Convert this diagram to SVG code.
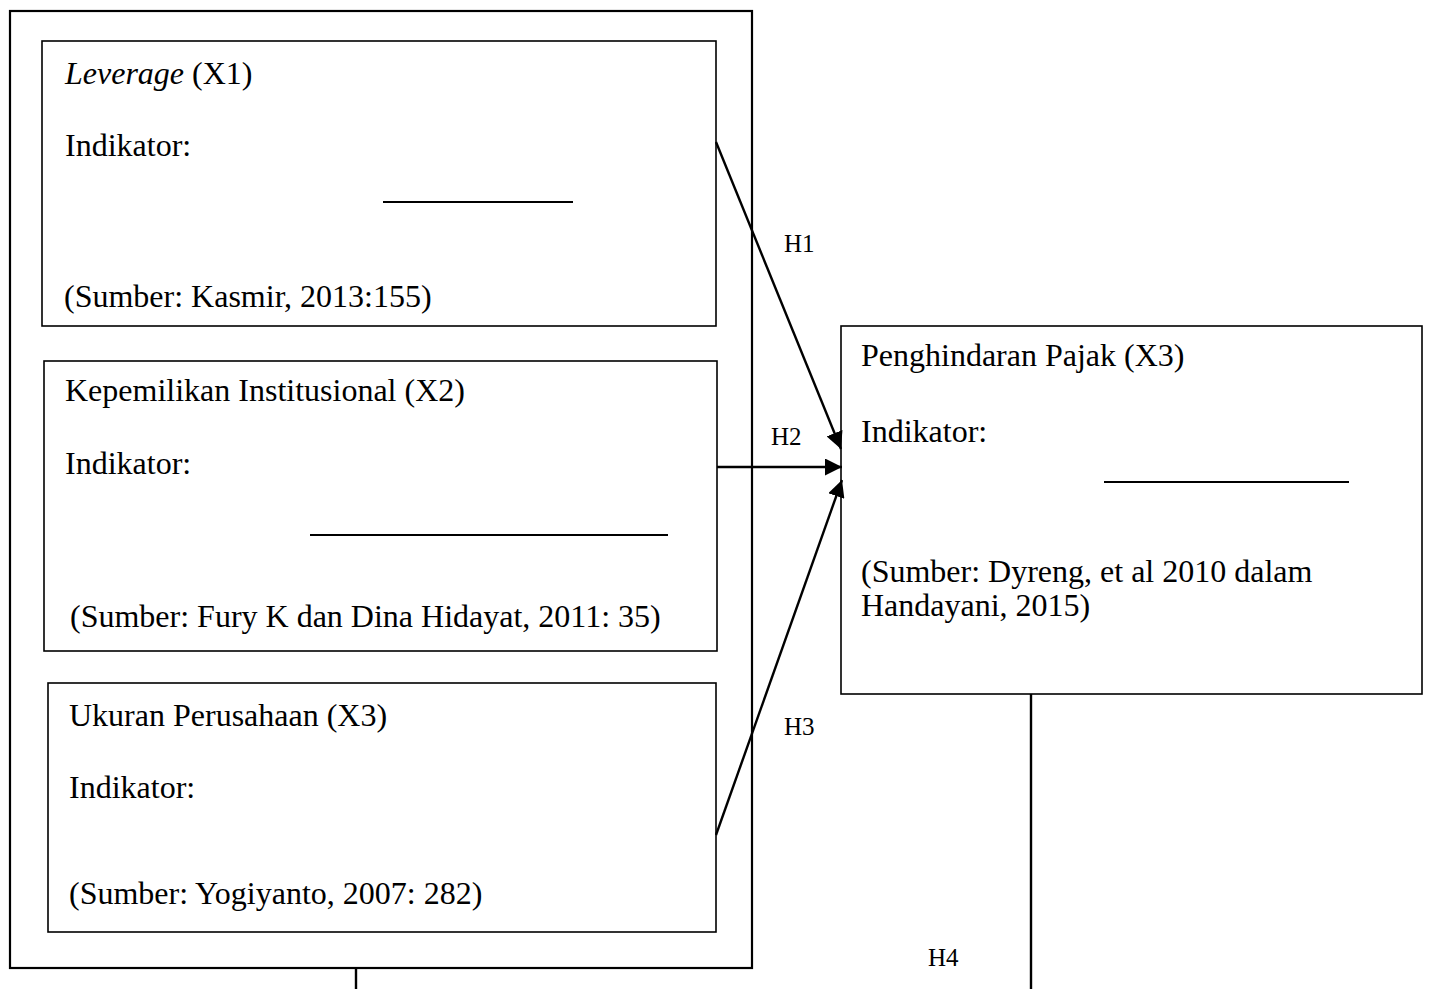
<svg xmlns="http://www.w3.org/2000/svg" width="1430" height="989" viewBox="0 0 1430 989">
<style>
.t{font-family:"Liberation Serif","Times New Roman",serif;font-size:32px;fill:#000}
.h{font-family:"Liberation Serif","Times New Roman",serif;font-size:25px;fill:#000}
.box{fill:none;stroke:#000;stroke-width:1.6}
.outer{fill:none;stroke:#000;stroke-width:2.2}
.ln{stroke:#000;stroke-width:2.4;fill:none}
.ul{stroke:#000;stroke-width:2.2}
</style>
<defs>
<marker id="ah" viewBox="0 0 10 10" refX="10" refY="5" markerWidth="17" markerHeight="17" markerUnits="userSpaceOnUse" orient="auto">
<path d="M0,0 L10,5 L0,10 z" fill="#000"/>
</marker>
</defs>
<g id="outer-group">
<rect class="outer" x="10" y="11" width="742" height="957"/>
</g>
<g id="leverage">
<rect class="box" x="42" y="41" width="674" height="285"/>
<text class="t" x="65" y="84"><tspan font-style="italic">Leverage</tspan> (X1)</text>
<text class="t" x="65" y="156">Indikator:</text>
<line class="ul" x1="383" y1="202" x2="573" y2="202"/>
<text class="t" x="64" y="307">(Sumber: Kasmir, 2013:155)</text>
</g>
<g id="kepemilikan">
<rect class="box" x="44" y="361" width="673" height="290"/>
<text class="t" x="65" y="401">Kepemilikan Institusional (X2)</text>
<text class="t" x="65" y="474">Indikator:</text>
<line class="ul" x1="310" y1="535" x2="668" y2="535"/>
<text class="t" x="70" y="627">(Sumber: Fury K dan Dina Hidayat, 2011: 35)</text>
</g>
<g id="ukuran">
<rect class="box" x="48" y="683" width="668" height="249"/>
<text class="t" x="69" y="726">Ukuran Perusahaan (X3)</text>
<text class="t" x="69" y="798">Indikator:</text>
<text class="t" x="69" y="904">(Sumber: Yogiyanto, 2007: 282)</text>
</g>
<g id="penghindaran">
<rect class="box" x="841" y="326" width="581" height="368"/>
<text class="t" x="861" y="366">Penghindaran Pajak (X3)</text>
<text class="t" x="861" y="442">Indikator:</text>
<line class="ul" x1="1104" y1="482" x2="1349" y2="482"/>
<text class="t" x="861" y="582">(Sumber: Dyreng, et al 2010 dalam</text>
<text class="t" x="861" y="616">Handayani, 2015)</text>
</g>
<g id="connectors">
<line class="ln" x1="716" y1="142" x2="841" y2="449" marker-end="url(#ah)"/>
<line class="ln" x1="717" y1="467" x2="842" y2="467" marker-end="url(#ah)"/>
<line class="ln" x1="716" y1="835" x2="842" y2="480" marker-end="url(#ah)"/>
<line class="ln" x1="1031" y1="694" x2="1031" y2="989"/>
<line class="ln" x1="356" y1="968" x2="356" y2="989"/>
<text class="h" x="784" y="252">H1</text>
<text class="h" x="771" y="445">H2</text>
<text class="h" x="784" y="735">H3</text>
<text class="h" x="928" y="966">H4</text>
</g>
</svg>
